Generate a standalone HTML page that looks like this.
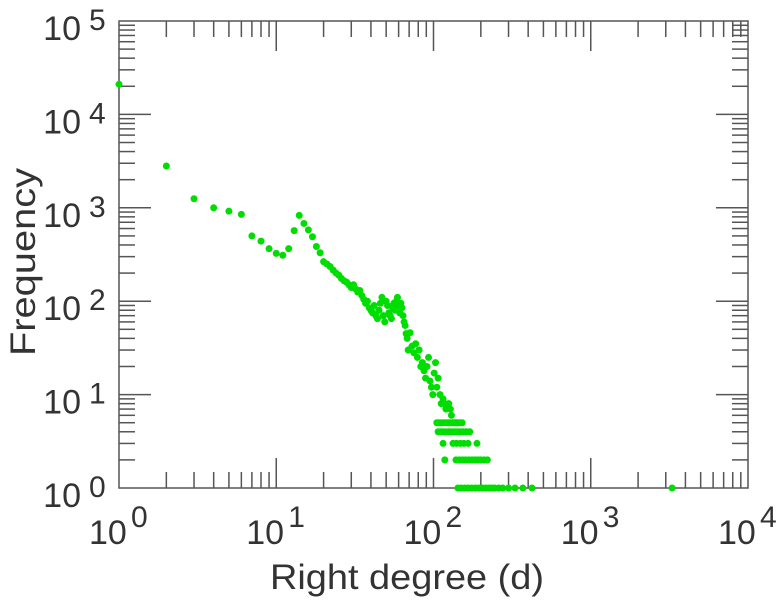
<!DOCTYPE html>
<html><head><meta charset="utf-8"><style>
html,body{margin:0;padding:0;background:#fff;}
svg text{font-family:"Liberation Sans",sans-serif;fill:#333;}
</style></head><body>
<svg id="chart" width="779" height="600" viewBox="0 0 779 600" xmlns="http://www.w3.org/2000/svg">
<g id="ticks"></g>
<rect x="119" y="21" width="629" height="467" fill="none" stroke="#555" stroke-width="1.5"/>
<g id="labels"></g>
<g id="points"></g>
<text x="407" y="589" font-size="35" text-anchor="middle" textLength="274" lengthAdjust="spacingAndGlyphs">Right degree (d)</text>
<text transform="translate(35,262) rotate(-90)" font-size="35" text-anchor="middle" textLength="188" lengthAdjust="spacingAndGlyphs">Frequency</text>
</svg>
<script>
const xDecades = [0,1,2,3,4];
const yDecades = [0,1,2,3,4,5];
const degrees = [1,2,3,4,5,6,7,8,9,10,11,12,13,14,15,16,17,18,19,20,
21,22,23,24,25,26,27,28,29,30,31,32,33,34,35,36,37,38,39,40,
41,42,43,44,45,46,47,48,49,50,51,52,53,54,55,56,57,58,59,60,
61,62,63,64,65,66,67,68,69,71,73,75,77,79,81,83,85,87,89,91,93,95,97,99,
101,103,105,107,110,112,115,118,120,125,128,130,133,136,140,
105,108,112,116,120,124,128,133,138,142,146,152,
107,111,115,120,125,130,136,142,148,155,162,170,
115,133,140,148,156,166,189,
118,139,146,153,160,168,176,184,192,200,210,220,
143,150,158,166,175,185,195,205,215,225,235,245,260,275,300,330,370,423,3290];
const freqs = [21000,2800,1250,1000,920,850,500,440,365,325,310,365,570,830,680,580,490,385,330,265,
250,235,215,200,190,175,165,160,150,140,150,135,125,130,115,105,95,100,85,80,
75,90,70,65,80,95,110,70,60,100,90,75,70,65,85,95,80,100,110,90,
75,95,85,70,60,55,45,40,30,46,33,28,35,25,30,20,22,18,15,20,25,14,12,10,
17,22,12,15,10,8,9,8,7,8,7,6,5,5,5,
5,5,5,5,5,5,5,5,5,5,5,5,
4,4,4,4,4,4,4,4,4,4,4,4,
3,3,3,3,3,3,3,
2,2,2,2,2,2,2,2,2,2,2,2,
1,1,1,1,1,1,1,1,1,1,1,1,1,1,1,1,1,1,1];
const X0=119,X1=748,Y0=488,Y1=21;
function xs(d){return X0+(X1-X0)*Math.log10(d)/4;}
function ys(f){return Y0-(Y0-Y1)*Math.log10(f)/5;}
const NS="http://www.w3.org/2000/svg";
const tg=document.getElementById('ticks'), lg=document.getElementById('labels'), pg=document.getElementById('points');
function line(x1,y1,x2,y2,name){const l=document.createElementNS(NS,'line');
l.setAttribute('x1',x1);l.setAttribute('y1',y1);l.setAttribute('x2',x2);l.setAttribute('y2',y2);
l.setAttribute('stroke','#555');l.setAttribute('stroke-width','1.5');


tg.appendChild(l);}
function txt(x,y,s,size,anchor,name){const t=document.createElementNS(NS,'text');
t.setAttribute('x',x);t.setAttribute('y',y);t.setAttribute('font-size',size);t.setAttribute('text-anchor',anchor);t.textContent=s;


lg.appendChild(t);}
xDecades.forEach((e,i)=>{
  const x=xs(Math.pow(10,e));
  if(e>0&&e<4){line(x,Y0,x,Y0-30,'x-major-tick');line(x,Y1,x,Y1+30,'x-major-tick');}
  txt(x-30,544,'10',34,'start','x-tick-label');
  txt(x+12,527,String(e),30,'start','x-tick-exponent');
  if(i<xDecades.length-1){for(let m=2;m<=9;m++){const xm=xs(m*Math.pow(10,e));
    line(xm,Y0,xm,Y0-16,'x-minor-tick');line(xm,Y1,xm,Y1+16,'x-minor-tick');}}
});
yDecades.forEach((e,i)=>{
  const y=ys(Math.pow(10,e));
  if(e>0&&e<5){line(X0,y,X0+32,y,'y-major-tick');line(X1,y,X1-32,y,'y-major-tick');}
  txt(81,y+19,'10',34,'end','y-tick-label');
  txt(89,y+9,String(e),30,'start','y-tick-exponent');
  if(i<yDecades.length-1){for(let m=2;m<=9;m++){const ym=ys(m*Math.pow(10,e));
    line(X0,ym,X0+16,ym,'y-minor-tick');line(X1,ym,X1-16,ym,'y-minor-tick');}}
});
degrees.forEach((d,i)=>{const c=document.createElementNS(NS,'circle');
  c.setAttribute('cx',xs(d));c.setAttribute('cy',ys(freqs[i]));c.setAttribute('r',3.5);c.setAttribute('fill','#00dd00');
  
  
  pg.appendChild(c);});
</script>
</body></html>
